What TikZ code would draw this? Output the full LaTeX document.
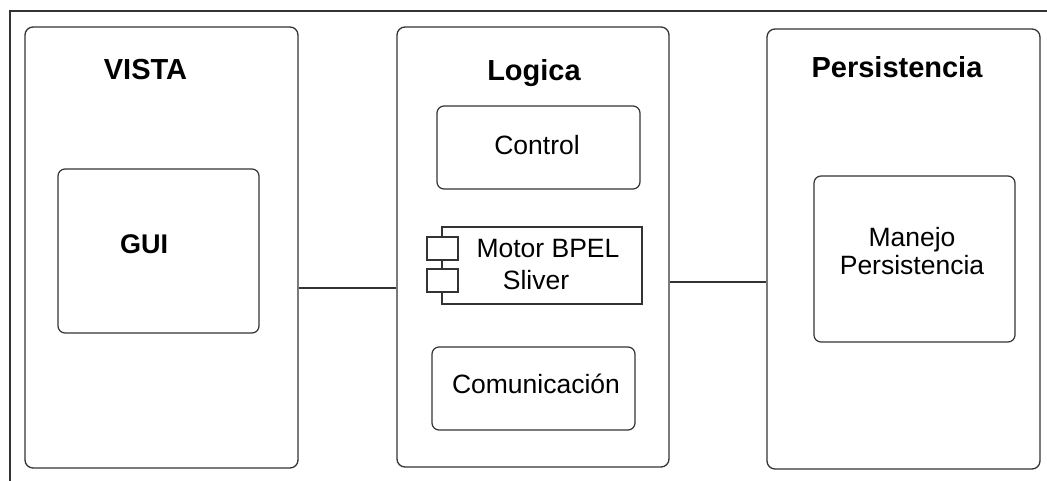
\documentclass[tikz,border=0pt]{standalone}
\usepackage{fontspec}
\setmainfont{Liberation Sans}
\usepackage{tikz}
\usetikzlibrary{calc,positioning}

\begin{document}
\begin{tikzpicture}[x=1pt,y=-1pt,
		layer/.style={draw=black!80, line width=1.3pt, rounded corners=8pt, inner sep=0pt},
		part/.style={draw=black!80, line width=1.2pt, rounded corners=7pt, inner sep=0pt},
		comp/.style={draw=black!80, line width=1.2pt, fill=white, inner sep=0pt},
		title/.style={anchor=base, font=\bfseries\fontsize{29}{34}\selectfont},
		label/.style={anchor=base, font=\fontsize{26.5}{30}\selectfont}]
			\useasboundingbox (0,0) rectangle (1047,481);
			\draw[black!80, line width=1.2pt] (10,481) -- (10,11) -- (1047,11);

			% capas
			\node[layer, minimum width=273pt, minimum height=441pt] (vista) at (161.5,247.5) {};
			\node[layer, minimum width=272pt, minimum height=440pt] (logica) at (533,247) {};
			\node[layer, minimum width=273pt, minimum height=440pt] (pers) at (903.5,249) {};
			\node[title] (vistaT) at (145.5,80) {VISTA};
			\node[title] (logicaT) at (534,81) {Logica};
			\node[title] (persT) at (897,78) {Persistencia};

			% vista
			\node[part, minimum width=201pt, minimum height=164pt] (gui) at (158.5,251) {};
			\node[title, font=\bfseries\fontsize{27}{32}\selectfont] (guiT) at (144,254) {GUI};

			% logica
			\node[part, minimum width=203pt, minimum height=83pt] (control) at (538.5,147.5) {};
			\node[label] (controlT) at (537,155) {Control};
			\node[comp, minimum width=200pt, minimum height=77pt] (motor) at (542,265.5) {};
			\node[comp, minimum width=31pt, minimum height=23pt] (motorA) at (442.5,248.5) {};
			\node[comp, minimum width=31pt, minimum height=23pt] (motorB) at (442.5,280.5) {};
			\node[label] (motorT) at (548,258) {Motor BPEL};
			\node[label] (motorS) at (536,289) {Sliver};
			\node[part, minimum width=203pt, minimum height=83pt] (comun) at (533.5,388.5) {};
			\node[label] (comunT) at (536,393) {Comunicación};

			% persistencia
			\node[part, minimum width=201pt, minimum height=166pt] (manejo) at (914.5,259) {};
			\node[label] (manejoT) at (912,247) {Manejo};
			\node[label] (manejoS) at (912,275) {Persistencia};

			\draw[black!80, line width=1.3pt] ([yshift=-40.5pt]vista.east) -- ([yshift=-40.5pt]vista.east -| logica.west);
			\draw[black!80, line width=1.3pt] ([yshift=-35pt]logica.east) -- ([yshift=-35pt]logica.east -| pers.west);
		\end{tikzpicture}
\end{document}
